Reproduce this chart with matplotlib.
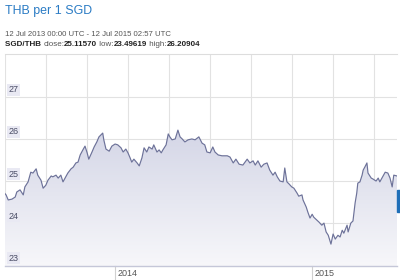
import matplotlib
matplotlib.use("Agg")
import matplotlib.pyplot as plt
import numpy as np
from matplotlib.patches import Rectangle
from matplotlib.colors import LinearSegmentedColormap

plt.rcParams['font.family'] = ['Liberation Sans', 'DejaVu Sans']

# ---- data (days since 12 Jul 2013, SGD/THB rate) ----
days = [0, 2, 6, 13, 19, 22, 28, 34, 37, 43, 48, 52, 58, 61, 67, 71, 76, 80, 86, 89,
        95, 99, 104, 108, 114, 117, 123, 127, 132, 136, 140, 145, 149, 153, 156, 162,
        166, 171, 175, 179, 182, 184, 188, 194, 199, 205, 210, 216, 220, 225, 229, 233,
        236, 240, 246, 250, 255, 259, 264, 268, 274, 277, 283, 287, 291, 294, 300, 304,
        307, 311, 317, 322, 326, 330, 335, 341, 348, 354, 361, 367, 372, 376, 382, 387,
        391, 397, 404, 414, 419, 425, 430, 436, 443, 447, 451, 456, 462, 466, 471, 477,
        482, 488, 493, 499, 503, 507, 512, 518, 521, 525, 529, 534, 538, 544, 547, 553,
        555, 561, 564, 568, 572, 575, 581, 585, 590, 594, 598, 602, 607, 611, 615, 620,
        624, 628, 631, 637, 639, 644, 648, 652, 655, 657, 661, 665, 667, 670, 674, 676,
        682, 685, 691, 695, 698, 702, 708, 713, 717, 721, 724, 730]
rates = [24.70, 24.67, 24.55, 24.57, 24.62, 24.74, 24.79, 24.67, 24.86, 24.98, 25.21, 25.19,
         25.29, 25.14, 25.02, 24.83, 24.90, 25.02, 25.12, 25.10, 25.14, 25.07, 25.14, 24.98,
         25.12, 25.19, 25.29, 25.33, 25.43, 25.45, 25.62, 25.74, 25.83, 25.67, 25.52, 25.69,
         25.81, 25.93, 26.05, 26.10, 26.14, 25.98, 25.76, 25.71, 25.83, 25.88, 25.86, 25.79,
         25.69, 25.76, 25.67, 25.55, 25.45, 25.52, 25.43, 25.36, 25.55, 25.79, 25.69, 25.81,
         25.76, 25.86, 25.69, 25.74, 25.67, 25.74, 25.86, 26.12, 26.05, 25.98, 26.00, 26.21,
         26.05, 26.00, 25.93, 25.98, 26.00, 25.98, 26.05, 25.90, 25.86, 25.69, 25.67, 25.81,
         25.69, 25.62, 25.60, 25.60, 25.57, 25.43, 25.52, 25.40, 25.38, 25.45, 25.52, 25.43,
         25.48, 25.38, 25.48, 25.33, 25.40, 25.43, 25.26, 25.14, 25.21, 25.10, 25.00, 24.98,
         25.31, 24.98, 24.93, 24.86, 24.83, 24.71, 24.64, 24.67, 24.55, 24.38, 24.26, 24.12,
         24.21, 24.14, 24.07, 24.02, 23.95, 24.00, 23.79, 23.71, 23.50, 23.74, 23.62, 23.71,
         23.67, 23.83, 23.76, 23.95, 23.79, 24.00, 24.05, 24.48, 24.71, 24.95, 24.98, 25.14,
         25.26, 25.33, 25.43, 25.19, 25.07, 25.05, 25.00, 25.07, 24.98, 25.07, 25.21, 25.19,
         25.07, 24.86, 25.14, 25.12]
y_ticks = [23, 24, 25, 26, 27]
x_tick_pos = [205, 572]
x_tick_labels = ["2014", "2015"]
title = "THB per 1 SGD"
subtitle = "12 Jul 2013 00:00 UTC - 12 Jul 2015 02:57 UTC"
stats = [("SGD/THB ", True), ("close:", False), ("25.11570", True), (" low:", False),
         ("23.49619", True), (" high:", False), ("26.20904", True)]

W, H = 400, 280
fig = plt.figure(figsize=(W / 100, H / 100), dpi=100)
ax = fig.add_axes([5 / W, 14 / H, 392 / W, 212 / H])
x0, x1 = 0, 730
y0, y1 = 22.98, 28.02
ax.set_xlim(x0, x1)
ax.set_ylim(y0, y1)

# gradient fill under the line
grad = np.linspace(0, 1, 256).reshape(-1, 1)
cmap = LinearSegmentedColormap.from_list("g", ["#f7f7fa", "#d3d5e6"])
im = ax.imshow(grad, extent=[x0, x1, y0, 26.3], origin="lower", aspect="auto",
               cmap=cmap, zorder=1)
poly = ax.fill_between(days, rates, y0, color="none", lw=0)
path = poly.get_paths()[0]
im.set_clip_path(path, transform=ax.transData)
ax.plot(days, rates, color="#6d7299", lw=0.85, zorder=3)

# grids
for yt in y_ticks:
    ax.axhline(yt, color="#e2e2e2", lw=0.8, zorder=0.5)
step = 730 * 41 / 392
for k in range(10):
    ax.axvline(k * step, color="#e2e2e2", lw=0.8, zorder=0.5)

for s in ["top", "right", "left"]:
    ax.spines[s].set_visible(False)
ax.spines["bottom"].set_color("#c5c7d8")
ax.spines["bottom"].set_linewidth(1.0)
ax.set_xticks([])
ax.set_yticks([])

# top border line
fig.add_artist(plt.Line2D([5 / W, 397 / W], [1 - 54 / H, 1 - 54 / H],
                          color="#dddddd", lw=0.8))

# y labels inside
for yt in y_ticks:
    ax.text(6, yt + 0.06, str(yt), fontsize=6.5, color="#4a4d66", ha="left",
            va="bottom", zorder=5,
            bbox=dict(boxstyle="square,pad=0.15", fc="#e9e9f3", ec="none"))

# x labels
for xp, lab in zip(x_tick_pos, x_tick_labels):
    ax.plot([xp, xp], [y0, y0 - 0.33], color="#d0d0d0", lw=0.8, clip_on=False)
    ax.text(xp + 4, y0 - 0.17, lab, fontsize=6.5, color="#555555",
            ha="left", va="center", clip_on=False)

# current value marker at right edge
fig.add_artist(Rectangle((397 / W, 1 - 212 / H), 3 / W, 22 / H,
                         transform=fig.transFigure, color="#1f6fb8"))

# header
fig.text(5 / W, 1 - 11 / H, title, fontsize=8.9, color="#2a7bc4", ha="left", va="center")
fig.text(5 / W, 1 - 34 / H, subtitle, fontsize=5.6, color="#555555", ha="left", va="center")
fig.canvas.draw()
r = fig.canvas.get_renderer()
xpos = 5
for txt, bold in stats:
    t = fig.text(xpos / W, 1 - 45 / H, txt, fontsize=5.75, color="#222222" if bold else "#555555",
                 fontweight="bold" if bold else "normal", ha="left", va="center")
    bb = t.get_window_extent(renderer=r)
    xpos += bb.width

fig.savefig("out.png", dpi=100)
